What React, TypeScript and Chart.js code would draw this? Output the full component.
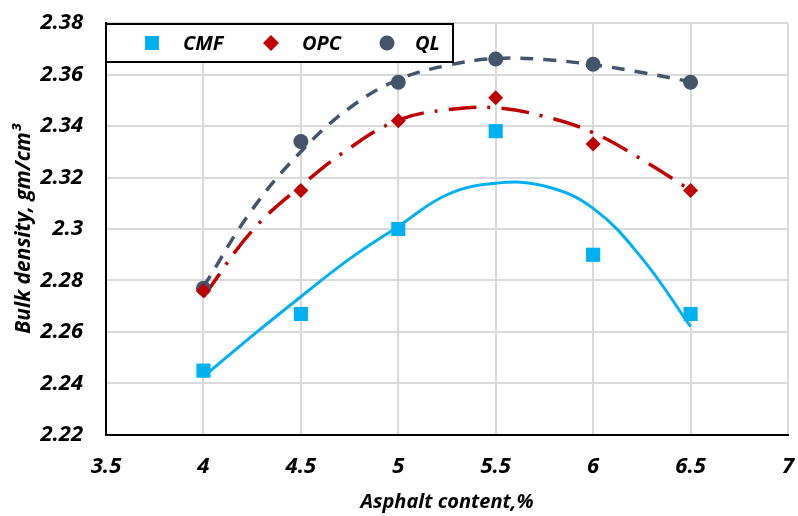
import React, { useEffect, useRef } from 'react';
import { Chart, registerables } from 'chart.js';

Chart.register(...registerables);

const FONT = '"Open Sans", Lato, "DejaVu Sans", sans-serif';

const seriesNames = ['CMF', 'OPC', 'QL'];
const seriesColors = ['#00B0F0', '#C00000', '#44546A'];
const seriesMarkers = ['rect', 'rectRot', 'circle'];

const asphaltContent = [4, 4.5, 5, 5.5, 6, 6.5];
const cmfDensity = [2.245, 2.267, 2.3, 2.338, 2.29, 2.267];
const opcDensity = [2.276, 2.315, 2.342, 2.351, 2.333, 2.315];
const qlDensity = [2.277, 2.334, 2.357, 2.366, 2.364, 2.357];

// trendline values
const trendContent = [4, 4.25, 4.5, 4.75, 5, 5.25, 5.5, 5.75, 6, 6.25, 6.5];
const cmfTrend = [2.2426, 2.2585, 2.2737, 2.2884, 2.301, 2.3133, 2.3178, 2.3167, 2.308, 2.2887, 2.2621];
const opcTrend = [2.2737, 2.2993, 2.3167, 2.3314, 2.3423, 2.3463, 2.3471, 2.3437, 2.3374, 2.327, 2.3151];
const qlTrend = [2.2775, 2.3075, 2.33, 2.347, 2.358, 2.3635, 2.3662, 2.3658, 2.3638, 2.3608, 2.3572];

const xMin = 3.5;
const xMax = 7;
const xStep = 0.5;
const yMin = 2.22;
const yMax = 2.38;
const yStep = 0.02;

const xTitle = 'Asphalt content,%';
const yTitle = 'Bulk density, gm/cm³';

const toPoints = (xs: number[], ys: number[]) => xs.map((x, i) => ({ x, y: ys[i] }));

const drawMarker = (ctx: CanvasRenderingContext2D, style: string, x: number, y: number, color: string) => {
  ctx.fillStyle = color;
  ctx.beginPath();
  if (style === 'rect') {
    ctx.rect(x - 7, y - 7, 14, 14);
  } else if (style === 'rectRot') {
    ctx.moveTo(x, y - 8);
    ctx.lineTo(x + 8, y);
    ctx.lineTo(x, y + 8);
    ctx.lineTo(x - 8, y);
    ctx.closePath();
  } else {
    ctx.arc(x, y, 7.5, 0, Math.PI * 2);
  }
  ctx.fill();
};

const legendBoxPlugin = {
  id: 'legendBox',
  afterDatasetsDraw(chart: any) {
    const ctx = chart.ctx as CanvasRenderingContext2D;
    const left = chart.chartArea.left;
    const top = chart.chartArea.top + 1;
    const w = 347;
    const h = 38;
    const markerOffsets = [46, 165, 281];
    const textOffsets = [77, 196, 309];
    ctx.save();
    ctx.fillStyle = '#ffffff';
    ctx.fillRect(left, top, w, h);
    ctx.lineWidth = 2;
    ctx.strokeStyle = '#000000';
    ctx.strokeRect(left, top, w, h);
    const cy = top + h / 2;
    seriesNames.forEach((name, i) => {
      drawMarker(ctx, seriesMarkers[i], left + markerOffsets[i], cy, seriesColors[i]);
      ctx.fillStyle = '#000000';
      ctx.font = `italic bold 20px ${FONT}`;
      ctx.textAlign = 'left';
      ctx.textBaseline = 'middle';
      ctx.fillText(name, left + textOffsets[i], cy + 1);
    });
    ctx.restore();
  },
};

export default function App() {
  const canvasRef = useRef<HTMLCanvasElement | null>(null);

  useEffect(() => {
    if (!canvasRef.current) return;
    const markerData = [cmfDensity, opcDensity, qlDensity];
    const trendData = [cmfTrend, opcTrend, qlTrend];
    const dashes = [[], [28, 11, 3, 11], [13, 10]];
    const lineWidths = [3, 3.5, 3.5];

    const datasets: any[] = [];
    seriesNames.forEach((name, i) => {
      datasets.push({
        label: name,
        data: toPoints(asphaltContent, markerData[i]),
        showLine: false,
        pointStyle: seriesMarkers[i],
        pointRadius: i === 0 ? 10 : 7.5,
        pointBackgroundColor: seriesColors[i],
        pointBorderColor: seriesColors[i],
        pointBorderWidth: 0,
        order: 0,
      });
    });
    seriesNames.forEach((name, i) => {
      datasets.push({
        label: name + ' trend',
        data: toPoints(trendContent, trendData[i]),
        showLine: true,
        pointRadius: 0,
        borderColor: seriesColors[i],
        borderWidth: lineWidths[i],
        borderDash: dashes[i],
        tension: 0.4,
        fill: false,
        order: 1,
      });
    });

    const chart = new Chart(canvasRef.current, {
      type: 'scatter',
      data: { datasets },
      plugins: [legendBoxPlugin],
      options: {
        animation: false,
        responsive: false,
        events: [],
        layout: { padding: { top: 23, right: 9, left: 0, bottom: 0 } },
        plugins: {
          legend: { display: false },
          tooltip: { enabled: false },
        },
        scales: {
          x: {
            type: 'linear',
            min: xMin,
            max: xMax,
            afterFit: (scale: any) => {
              scale.height = 81;
              scale.paddingLeft = 0;
              scale.paddingRight = 0;
            },
            ticks: {
              stepSize: xStep,
              padding: 19,
              color: '#000',
              font: { family: FONT, size: 22, style: 'italic', weight: 'bold' },
              callback: (v: any) => String(parseFloat(Number(v).toFixed(2))),
            },
            grid: { color: '#d9d9d9', lineWidth: 2, drawTicks: false },
            border: { color: '#000', width: 2 },
            title: {
              display: true,
              text: xTitle,
              color: '#000',
              font: { family: FONT, size: 20, style: 'italic', weight: 'bold' },
              padding: { top: 0, bottom: 2 },
            },
          },
          y: {
            type: 'linear',
            min: yMin,
            max: yMax,
            afterFit: (scale: any) => {
              scale.width = 106;
              scale.paddingTop = 0;
              scale.paddingBottom = 0;
            },
            ticks: {
              stepSize: yStep,
              padding: 23,
              color: '#000',
              font: { family: FONT, size: 22, style: 'italic', weight: 'bold' },
              callback: (v: any) => String(parseFloat(Number(v).toFixed(2))),
            },
            grid: { color: '#d9d9d9', lineWidth: 2, drawTicks: false },
            border: { color: '#000', width: 2 },
            title: {
              display: true,
              text: yTitle,
              color: '#000',
              font: { family: FONT, size: 21, style: 'italic', weight: 'bold' },
              padding: { top: 11, bottom: 0 },
            },
          },
        },
      },
    });
    return () => chart.destroy();
  }, []);

  return (
    <div style={{ position: 'fixed', left: 0, top: 0, width: 798, height: 516, background: '#fff' }}>
      <canvas ref={canvasRef} width={798} height={516} style={{ display: 'block' }} />
    </div>
  );
}
